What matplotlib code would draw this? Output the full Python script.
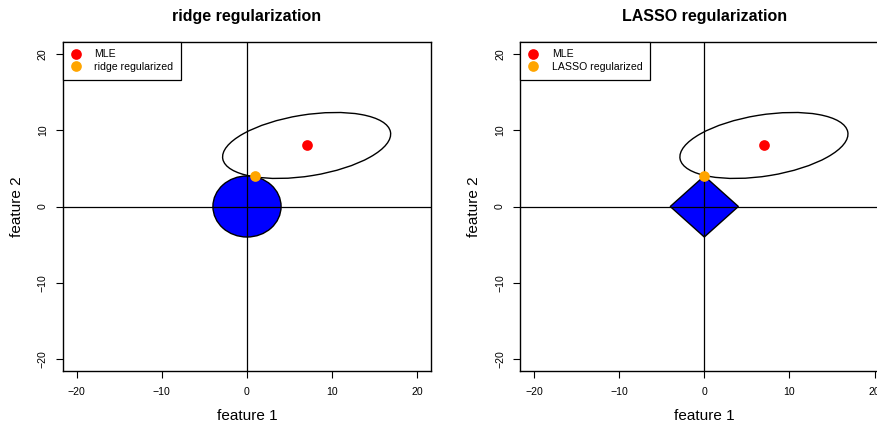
import matplotlib
matplotlib.use("Agg")
import matplotlib.pyplot as plt
from matplotlib.patches import Ellipse, Polygon
from matplotlib.lines import Line2D
import numpy as np

plt.rcParams['font.family'] = ['Liberation Sans', 'DejaVu Sans']

# ---- data ----
titles = ["ridge regularization", "LASSO regularization"]
legend_labels = [["MLE", "ridge regularized"], ["MLE", "LASSO regularized"]]
mle = [7, 8]
ridge_est = [0.9, 3.95]
lasso_est = [0, 4]
constraint_t = 4
ell_center = [7, 8]
ell_width = 20.0     # full major axis
ell_height = 8.0     # full minor axis
ell_angle = 10.3     # degrees
ticks = [-20, -10, 0, 10, 20]
lim = [-21.6, 21.6]

fig = plt.figure(figsize=(8.77, 4.26), dpi=100)
W, H = 877, 426
ax_w, ax_h = 368, 329.6
positions = [(63, 41.7), (520.3, 41.7)]

for i, (px, py) in enumerate(positions):
    ax = fig.add_axes([px / W, (H - py - ax_h) / H, ax_w / W, ax_h / H])
    ax.set_xlim(lim)
    ax.set_ylim(lim)
    ax.set_xticks(ticks)
    ax.set_yticks(ticks)
    ax.set_xticklabels([str(t).replace('-', '\u2212') for t in ticks], fontsize=7.6)
    ax.set_yticklabels([str(t).replace('-', '\u2212') for t in ticks], fontsize=7.6,
                       rotation=90, va='center')
    ax.tick_params(direction='out', length=5, width=0.8, pad=6)
    for s in ax.spines.values():
        s.set_linewidth(1.0)

    ax.axhline(0, color='black', lw=0.9, zorder=3)
    ax.axvline(0, color='black', lw=0.9, zorder=3)

    if i == 0:
        shape = Ellipse((0, 0), 2 * constraint_t, 2 * constraint_t,
                        facecolor='#0000FF', edgecolor='black', lw=1.0, zorder=2)
        est = ridge_est
    else:
        t = constraint_t
        shape = Polygon([(t, 0), (0, t), (-t, 0), (0, -t)], closed=True,
                        facecolor='#0000FF', edgecolor='black', lw=1.0, zorder=2)
        est = lasso_est
    ax.add_patch(shape)

    ell = Ellipse(ell_center, ell_width, ell_height, angle=ell_angle,
                  facecolor='none', edgecolor='black', lw=1.0, zorder=4)
    ax.add_patch(ell)

    ax.plot([mle[0]], [mle[1]], 'o', color='red', ms=7.7, mew=0, zorder=5)
    ax.plot([est[0]], [est[1]], 'o', color='orange', ms=7.7, mew=0, zorder=5)

    ax.set_title(titles[i], fontsize=11.5, fontweight='bold', pad=15)
    ax.set_xlabel("feature 1", fontsize=11, labelpad=9)
    ax.set_ylabel("feature 2", fontsize=11, labelpad=10)

    handles = [Line2D([], [], ls='none', marker='o', color='red', ms=7.7, mew=0),
               Line2D([], [], ls='none', marker='o', color='orange', ms=7.7, mew=0)]
    leg = ax.legend(handles, legend_labels[i], loc='upper left', fontsize=7.6,
                    fancybox=False, framealpha=1, edgecolor='black',
                    borderaxespad=0, handletextpad=1.3, handlelength=0.95,
                    labelspacing=0.25, borderpad=0.72)
    leg.get_frame().set_linewidth(0.9)
    leg.set_zorder(10)

fig.savefig("out.png", dpi=100)
